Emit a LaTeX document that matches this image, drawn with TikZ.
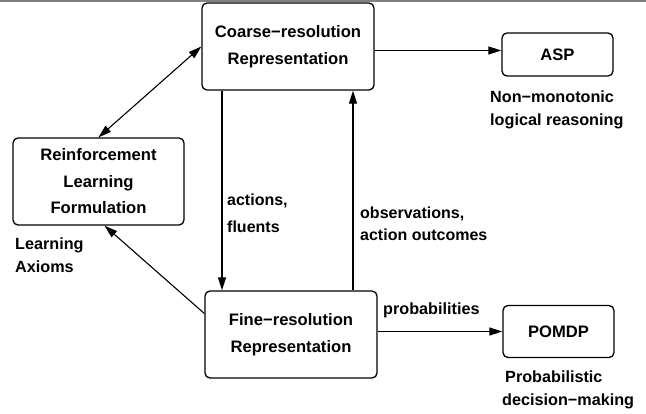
\documentclass[tikz,border=0pt]{standalone}
\usepackage{fontspec}
\setmainfont{Liberation Sans}
\usetikzlibrary{arrows.meta,calc}
\begin{document}
\begin{tikzpicture}[x=1pt,y=-1pt,
  box/.style={draw, line width=1.3pt, rounded corners=5pt, align=center, inner sep=0pt,
    font=\bfseries\fontsize{16.6}{26.5}\selectfont},
  lbl/.style={align=left, inner sep=0pt, anchor=west, font=\bfseries\fontsize{16.2}{23.5}\selectfont},
  conn/.style={line width=1.1pt, -{Triangle[length=13pt,width=8pt]}},
  dconn/.style={line width=1.1pt, {Triangle[length=13pt,width=8pt]}-{Triangle[length=13pt,width=8pt]}}]
\useasboundingbox (0,0) rectangle (646,413);
\draw[line width=1.4pt, gray] (0,1) -- (646,1);

\node[box, minimum width=172pt, minimum height=87pt] (coarse) at (288,46.5) {Coarse−resolution\\Representation};
\node[box, minimum width=171pt, minimum height=87pt] (rl) at (98.5,181.5) {Reinforcement\\Learning\\Formulation};
\node[box, minimum width=172pt, minimum height=87pt] (fine) at (291,334.5) {Fine−resolution\\Representation};
\node[box, minimum width=111pt, minimum height=43pt] (asp) at (557.5,54.5) {ASP};
\node[box, minimum width=111pt, minimum height=52pt] (pomdp) at (558.5,331.5) {POMDP};

\node[lbl] (nm) at (490,110) {Non−monotonic\\logical reasoning};
\node[lbl] (pd) at (502,390) {\hspace{3pt}Probabilistic\\decision−making};
\node[lbl] (la) at (15,255) {Learning\\Axioms};
\node[lbl, font=\bfseries\fontsize{16}{27}\selectfont] (af) at (227,213.5) {actions,\\fluents};
\node[lbl, font=\bfseries\fontsize{16}{22}\selectfont] (oa) at (360,224) {observations,\\action outcomes};
\node[lbl] (pr) at (383,310) {probabilities};

\coordinate (xd) at (222,0);
\coordinate (xu) at (353,0);
\coordinate (ya) at (0,50.5);
\draw[dconn] (rl.north) -- (coarse.west);
\draw[conn] (coarse.east |- ya) -- (asp.west |- ya);
\draw[conn] (coarse.south -| xd) -- (fine.north -| xd);
\draw[conn] (fine.north -| xu) -- (coarse.south -| xu);
\draw[conn] ([yshift=21pt]fine.west) -- ([xshift=6pt]rl.south);
\draw[conn] (fine.east |- pomdp.west) -- (pomdp.west);
\end{tikzpicture}
\end{document}
